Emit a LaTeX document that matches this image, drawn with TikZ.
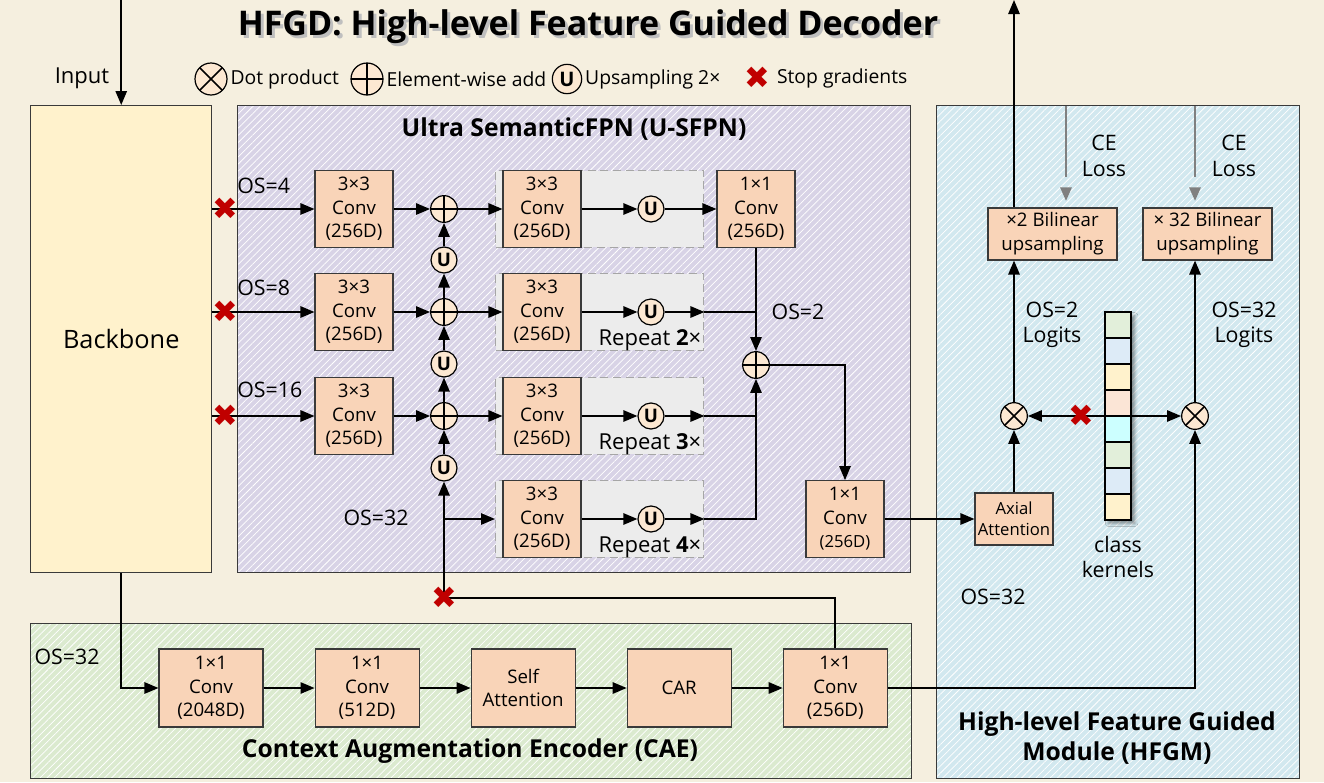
\documentclass[tikz,border=0pt]{standalone}
\usepackage{fontspec}
\setmainfont{Open Sans}
\newfontfamily\dingfont{DejaVu Sans}
\usepackage{xcolor}
\usepackage{tikz}
\usetikzlibrary{arrows.meta,positioning,calc,patterns.meta,shadows.blur}
\definecolor{paper}{HTML}{F5EFDF}
\definecolor{bbfill}{HTML}{FFF2CC}
\definecolor{fpnfill}{HTML}{D8D3E6}
\definecolor{hfgfill}{HTML}{D2E8EF}
\definecolor{caefill}{HTML}{DBEACF}
\definecolor{convfill}{HTML}{F9D4B8}
\definecolor{opfill}{HTML}{FCE8D2}
\definecolor{repfill}{HTML}{ECECEC}
\definecolor{stopred}{HTML}{C00000}
\definecolor{lossgray}{HTML}{808080}
\definecolor{edge}{HTML}{3A3A3A}
\definecolor{kgreen}{HTML}{E2EFDA}
\definecolor{kblue}{HTML}{DDEBF7}
\definecolor{kyell}{HTML}{FFF2CC}
\definecolor{kpeach}{HTML}{FBE5D6}
\definecolor{kcyan}{HTML}{CCFFFF}
\tikzset{
  grp/.style  ={draw=edge, line width=1.1pt, anchor=north west, inner sep=0pt,
                pattern={Lines[angle=45,distance=3.8pt,line width=0.55pt]}, pattern color=white},
  gttl/.style ={font=\fontsize{18.5}{22.5}\selectfont\bfseries, align=center},
  ttl/.style  ={font=\fontsize{25.5}{30}\selectfont\bfseries},
  conv/.style ={draw=edge, line width=0.8pt, fill=convfill, align=center, inner sep=0pt,
                minimum width=58.5pt, minimum height=57.5pt, font=\fontsize{14}{17.6}\selectfont},
  wide/.style ={conv, minimum width=78pt, minimum height=58.5pt},
  rep/.style  ={draw=black!35, dash pattern=on 6pt off 3.5pt, line width=1.1pt, fill=repfill,
                anchor=west, inner sep=0pt, minimum width=156pt, minimum height=57.5pt},
  reptx/.style={font=\fontsize{16.5}{19}\selectfont, anchor=base east, inner sep=0pt},
  op/.style   ={circle, draw=black, line width=0.9pt, fill=opfill, inner sep=0pt, minimum size=20pt},
  add/.style  ={op, path picture={\draw[line width=1.2pt]
                (path picture bounding box.north) -- (path picture bounding box.south)
                (path picture bounding box.west) -- (path picture bounding box.east);}},
  mul/.style  ={op, path picture={\draw[line width=1.1pt]
                (path picture bounding box.north west) -- (path picture bounding box.south east)
                (path picture bounding box.south west) -- (path picture bounding box.north east);}},
  ups/.style  ={op, minimum size=19.5pt, font=\fontsize{14}{14}\selectfont\bfseries},
  stopx/.style={text=stopred, font=\dingfont\fontsize{23}{23}\selectfont, inner sep=0pt},
  lbl/.style  ={font=\fontsize{16}{19}\selectfont, align=center},
  leg/.style  ={font=\fontsize{14.5}{17}\selectfont, anchor=west, inner sep=2pt},
  arr/.style  ={draw=black, line width=1.3pt, -{Triangle[length=10.5pt,width=8.5pt]}},
  ln/.style   ={draw=black, line width=1.3pt},
  loss/.style ={draw=lossgray, line width=1.3pt, dash pattern=on 53pt off 9pt,
                -{Triangle[length=10pt,width=8.5pt]}, shorten >=5pt},
  cell/.style ={draw=black, line width=1.3pt, minimum width=20pt, minimum height=19.5pt, inner sep=0pt},
}

\begin{document}
\begin{tikzpicture}[x=0.75pt,y=-0.75pt]
  \useasboundingbox (0,0) rectangle (1324,782);
  \fill[paper] (0,0) rectangle (1324,782);
  \def\ra{209} \def\rb{312} \def\rc{416} \def\rd{519}   % U-SFPN rows
  \def\ya{688}                                          % CAE row

  % ---------------------------------------------------------------- title, legend
  \node[ttl, text=black!25] (ttlsh) at (591,30) {HFGD: High-level Feature Guided Decoder};
  \node[ttl] (ttl) at (588,27) {HFGD: High-level Feature Guided Decoder};
  \node[lbl, font=\fontsize{16.5}{19}\selectfont] (inl) at (82,78) {Input};
  \node[mul, minimum size=24pt] (lgm) at (211,79) {};
  \node[leg, right=0pt of lgm] (lgmt) {Dot product};
  \node[add, minimum size=24pt] (lga) at (367,79) {};
  \node[leg, right=0pt of lga] (lgat) {Element-wise add};
  \node[ups, minimum size=22pt, font=\fontsize{15}{15}\selectfont\bfseries] (lgu) at (567,79) {U};
  \node[leg, right=0pt of lgu] (lgut) {Upsampling 2×};
  \node[stopx] (lgx) at (757,78) {✖};
  \node[leg, right=3pt of lgx] (lgxt) {Stop gradients};

  % ---------------------------------------------------------------- frames
  \node[draw=edge, line width=1.1pt, fill=bbfill, anchor=north west, minimum width=135.75pt,
        minimum height=350.25pt, font=\fontsize{19}{23}\selectfont] (bb) at (30,105) {Backbone};
  \node[grp, preaction={fill=fpnfill}, minimum width=504.75pt, minimum height=350.25pt] (fpn) at (237,105) {};
  \node[grp, preaction={fill=hfgfill}, minimum width=272.25pt, minimum height=504.75pt] (hfg) at (936,105) {};
  \node[grp, preaction={fill=caefill}, minimum width=660.75pt, minimum height=116.25pt] (cae) at (30,623) {};
  \node[gttl] (fpnt) at (574,129) {Ultra SemanticFPN (U-SFPN)};
  \node[gttl] (hfgt) at (1117,738) {High-level Feature Guided\\Module (HFGM)};
  \node[gttl] (caet) at (470,751) {Context Augmentation Encoder (CAE)};

  % ---------------------------------------------------------------- U-SFPN
  \foreach \n/\y in {a/\ra, b/\rb, c/\rc} {
    \node[conv] (p\n) at (354,\y) {3×3\\Conv\\(256D)};
    \node[add] (s\n) at (444,\y) {};
  }
  \foreach \n/\y in {a/\ra, b/\rb, c/\rc, d/\rd} {
    \node[rep] (r\n) at (495,\y) {};
    \node[conv] (q\n) at (542,\y) {3×3\\Conv\\(256D)};
    \node[ups] (v\n) at (651,\y) {U};
  }
  \node[reptx] (tb) at ($(rb.south east)+(-3,-6)$) {Repeat \textbf{2}×};
  \node[reptx] (tc) at ($(rc.south east)+(-3,-6)$) {Repeat \textbf{3}×};
  \node[reptx] (td) at ($(rd.south east)+(-3,-6)$) {Repeat \textbf{4}×};
  \node[ups] (ua) at (444,260) {U};
  \node[ups] (ub) at (444,364) {U};
  \node[ups] (uc) at (444,468) {U};
  \node[conv] (t) at (756,\ra) {1×1\\Conv\\(256D)};
  \node[add] (m) at (756,365) {};
  \node[conv] (fc) at (845,519) {1×1\\Conv\\{\fontsize{12.5}{15}\selectfont(256D)}};
  \node[lbl, anchor=west, inner sep=0pt] (osa) at (237,186) {OS=4};
  \node[lbl, anchor=west, inner sep=0pt] (osb) at (237,288) {OS=8};
  \node[lbl, anchor=west, inner sep=0pt] (osc) at (237,390) {OS=16};
  \node[lbl] (osd) at (376,518) {OS=32};
  \node[lbl] (ose) at (798,312) {OS=2};

  % ---------------------------------------------------------------- CAE
  \node[wide] (c1) at (211,\ya) {1×1\\Conv\\(2048D)};
  \node[wide, right=38.25pt of c1] (c2) {1×1\\Conv\\(512D)};
  \node[wide, right=38.25pt of c2] (c3) {Self\\Attention};
  \node[wide, right=38.25pt of c3] (c4) {CAR};
  \node[wide, right=38.25pt of c4] (c5) {1×1\\Conv\\(256D)};
  \node[lbl] (osf) at (67,657) {OS=32};

  % ---------------------------------------------------------------- HFGM
  \node[conv, minimum height=39pt, font=\fontsize{12.5}{15.5}\selectfont] (ax) at (1014,519) {Axial\\Attention};
  \node[mul] (xl) at (1014,416) {};
  \node[mul] (xr) at (1195,416) {};
  \node[conv, minimum width=96.75pt, minimum height=39pt,
        font=\fontsize{14}{18}\selectfont] (up2) at (1052.5,234) {×2 Bilinear\\upsampling};
  \node[conv, minimum width=96.75pt, minimum height=39pt,
        font=\fontsize{14}{18}\selectfont] (up32) at (1207.5,234) {× 32 Bilinear\\upsampling};
  \node[draw=black, line width=1.3pt, fill=white, blur shadow={shadow blur steps=6},
        minimum width=20pt, minimum height=156pt, inner sep=0pt] (kcol) at (1118,416) {};
  \foreach \c [count=\i] in {kgreen,kblue,kyell,kpeach,kcyan,kgreen,kblue,kyell}
    \node[cell, fill=\c] (k\i) at (1118,{299+26*\i}) {};
  \node[lbl] (cea) at (1104,156) {CE\\Loss};
  \node[lbl] (ceb) at (1234,156) {CE\\Loss};
  \node[lbl] (lg2) at (1052,325) {OS=2\\Logits};
  \node[lbl] (lg32) at (1244,325) {OS=32\\Logits};
  \node[lbl] (kl) at (1118,557) {class\\kernels};
  \node[lbl] (osh) at (993,597) {OS=32};

  % ---------------------------------------------------------------- connectors
  \coordinate (inp) at (bb.north |- 0,0);
  \coordinate (out) at (1014,0);
  \coordinate (k4)  at (444,598);
  \coordinate (la)  at (1066,106);
  \coordinate (lb)  at (1195,106);
  \draw[arr] (inp) -- (bb);
  \foreach \n in {a,b,c} {
    \draw[arr] (bb.east |- p\n) -- (p\n);
    \draw[arr] (p\n) -- (s\n);
    \draw[arr] (s\n) -- (q\n);
  }
  \foreach \n in {a,b,c,d}
    \draw[arr] (q\n) -- (v\n);
  \draw[arr] (va) -- (t);
  \foreach \n in {b,c} {
    \draw[arr] (v\n) -- (r\n.east);
    \draw[ln] (r\n.east) -- (r\n.east -| m);
  }
  \draw[arr] (vd) -- (rd.east);
  \draw[arr] (rd.east) -| (m);
  \draw[arr] (t) -- (m);
  \draw[arr] (m) -| (fc);
  \draw[arr] (ua) -- (sa);
  \draw[arr] (sb) -- (ua);
  \draw[arr] (ub) -- (sb);
  \draw[arr] (sc) -- (ub);
  \draw[arr] (uc) -- (sc);
  \draw[ln] (c5) |- (k4);
  \draw[arr] (k4) -- (uc);
  \draw[arr] (uc |- rd) -- (rd.west);
  \draw[arr] (bb) |- (c1);
  \draw[arr] (c1) -- (c2);
  \draw[arr] (c2) -- (c3);
  \draw[arr] (c3) -- (c4);
  \draw[arr] (c4) -- (c5);
  \draw[arr] (c5) -| (xr);
  \draw[arr] (fc) -- (ax);
  \draw[arr] (ax) -- (xl);
  \draw[arr] (xl) -- (xl |- up2.south);
  \draw[arr] (xr) -- (xr |- up32.south);
  \draw[arr] (xl |- up2.north) -- (out);
  \draw[arr] (kcol.west |- xl) -- (xl);
  \draw[arr] (kcol.east |- xr) -- (xr);
  \draw[loss] (la) -- (la |- up2.north);
  \draw[loss] (lb) -- (lb |- up32.north);

  % ---------------------------------------------------------------- stop gradients
  \foreach \n in {a,b,c}
    \node[stopx] (x\n) at (225,\csname r\n\endcsname) {✖};
  \node[stopx] (xd) at (k4) {✖};
  \node[stopx] (xk) at (1081,416) {✖};
\end{tikzpicture}
\end{document}
